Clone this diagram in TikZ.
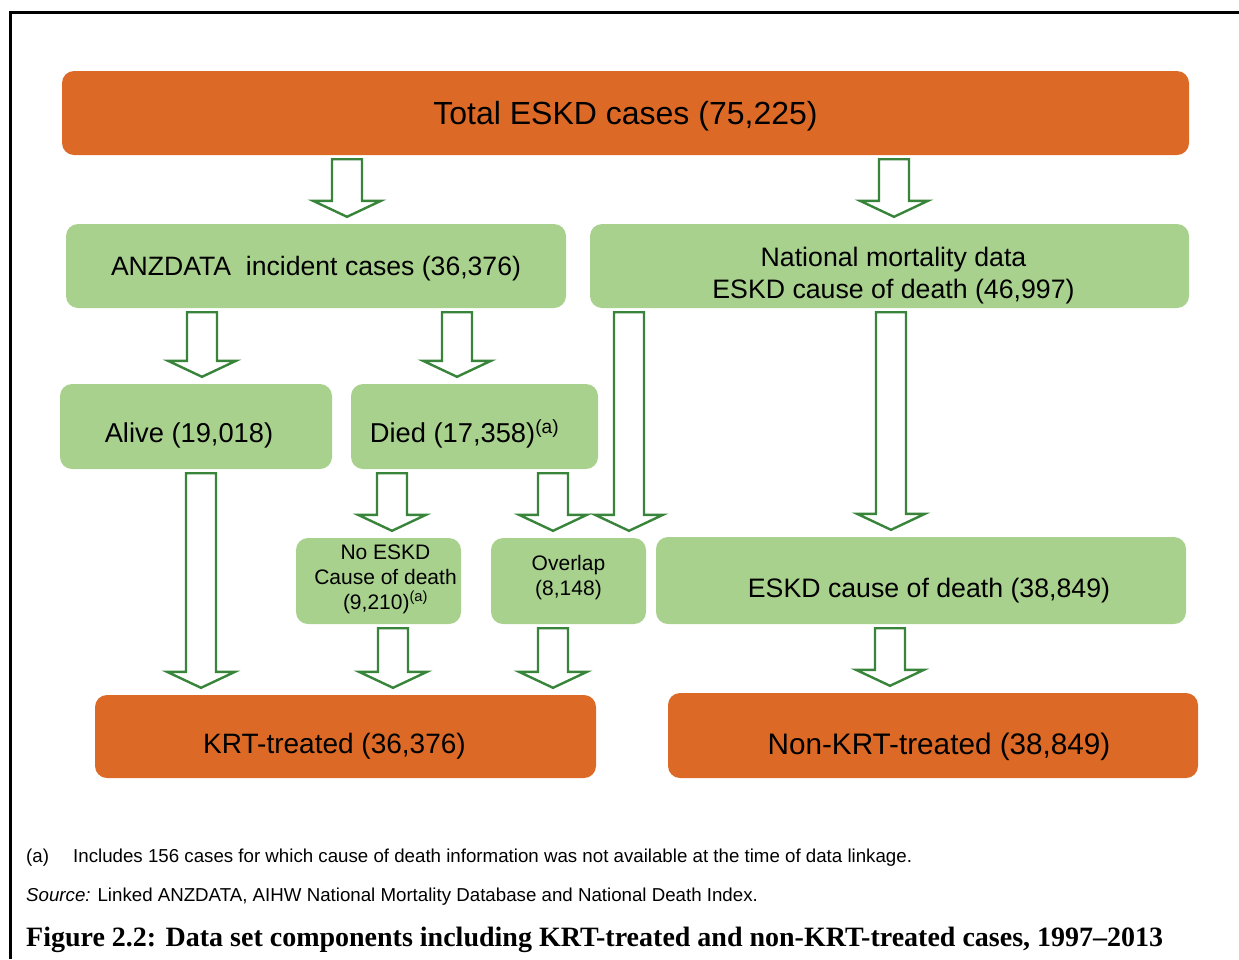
\documentclass[tikz,border=0pt]{standalone}
\usepackage{fontspec}
\setmainfont{Liberation Sans}
\newfontfamily\capfont{Liberation Serif}
\usetikzlibrary{calc}
\definecolor{eskdorange}{RGB}{220,106,38}
\definecolor{eskdgreen}{RGB}{169,209,142}
\definecolor{arrowgreen}{RGB}{56,132,58}
\tikzset{
  orangebox/.style={fill=eskdorange, rounded corners=12pt, inner sep=0pt, align=center},
  greenbox/.style={fill=eskdgreen, rounded corners=12pt, inner sep=0pt, align=center},
  textpos/.style={text depth=0pt, text height=#1},
  hollowarrow/.style={draw=arrowgreen, line width=2.4pt, fill=white, line join=miter},
  note/.style={anchor=west, inner sep=0pt, font=\fontsize{18.7}{22}\selectfont},
}
% 空心箭头: x 位置, 起点, 终点
\newcommand{\blockarrow}[3]{%
  \coordinate (s) at (#2.south -| #1,0);
  \coordinate (t) at (#3.north -| #1,0);
  \draw[hollowarrow] ($(s)+(-15,4)$) -- ($(t)+(-15,-23)$) -- ($(t)+(-34,-23)$)
    -- ($(t)+(0,-7)$) -- ($(t)+(34,-23)$) -- ($(t)+(15,-23)$) -- ($(s)+(15,4)$) -- cycle;
}
\begin{document}
\begin{tikzpicture}[x=1pt, y=-1pt]
            \useasboundingbox (0,0) rectangle (1239,959);
            % 边框
            \draw[line width=3pt] (10,959) -- (10,12) -- (1239,12);
            % 方框
            \node[orangebox, minimum width=1127pt, minimum height=84pt, textpos=22.9pt, font=\fontsize{32}{38}\selectfont] (total) at (625.5,113) {Total ESKD cases (75,225)};
            \node[greenbox, minimum width=500pt, minimum height=84pt, textpos=19pt, font=\fontsize{26.6}{32}\selectfont] (anz) at (316,266) {ANZDATA\ \ incident cases (36,376)};
            \node[greenbox, minimum width=599pt, minimum height=84pt, textpos=65.1pt, font=\fontsize{26.7}{32}\selectfont] (nat) at (889.5,266) {\hspace*{8pt}National mortality data\\\hspace*{8pt}ESKD cause of death (46,997)};
            \node[greenbox, minimum width=272pt, minimum height=85pt, textpos=31.5pt, font=\fontsize{27.3}{32}\selectfont] (alive) at (196,426.5) {Alive (19,018)\hspace*{14pt}};
            \node[greenbox, minimum width=247pt, minimum height=85pt, textpos=31.5pt, font=\fontsize{27.3}{32}\selectfont] (died) at (474.5,426.5) {Died (17,358)\textsuperscript{(a)}\hspace*{20pt}};
            \node[greenbox, minimum width=165pt, minimum height=86pt, textpos=57pt, font=\fontsize{21}{25}\selectfont] (noeskd) at (378.5,581) {\hspace*{14pt}No ESKD\\\hspace*{14pt}Cause of death\\\hspace*{14pt}(9,210)\textsuperscript{(a)}};
            \node[greenbox, minimum width=155pt, minimum height=86pt, textpos=29pt, font=\fontsize{21}{25}\selectfont] (overlap) at (568.5,581) {Overlap\\(8,148)};
            \node[greenbox, minimum width=530pt, minimum height=87pt, textpos=33.1pt, font=\fontsize{26.7}{32}\selectfont] (eskd) at (921,580.5) {\hspace*{16pt}ESKD cause of death (38,849)};
            \node[orangebox, minimum width=501pt, minimum height=83pt, textpos=34pt, font=\fontsize{28}{34}\selectfont] (krt) at (345.5,736.5) {KRT-treated (36,376)\hspace*{22pt}};
            \node[orangebox, minimum width=530pt, minimum height=85pt, textpos=37.3pt, font=\fontsize{29.7}{35}\selectfont] (nonkrt) at (933,735.5) {\hspace*{12pt}Non-KRT-treated (38,849)};
            % 箭头
            \blockarrow{347}{total}{anz}
            \blockarrow{894}{total}{nat}
            \blockarrow{202}{anz}{alive}
            \blockarrow{457}{anz}{died}
            \blockarrow{629}{nat}{overlap}
            \blockarrow{891}{nat}{eskd}
            \blockarrow{201}{alive}{krt}
            \blockarrow{392}{died}{noeskd}
            \blockarrow{553}{died}{overlap}
            \blockarrow{393}{noeskd}{krt}
            \blockarrow{553}{overlap}{krt}
            \blockarrow{890}{eskd}{nonkrt}
            % 注释
            \node[note] (fna) at (26,858) {(a)};
            \node[note] (fntext) at (73,858) {Includes 156 cases for which cause of death information was not available at the time of data linkage.};
            \node[note] (source) at (26,897) {\textit{Source:} Linked ANZDATA, AIHW National Mortality Database and National Death Index.};
            \node[note, font=\capfont\bfseries\fontsize{28}{30}\selectfont] (caption) at (26,940) {Figure 2.2: Data set components including KRT-treated and non-KRT-treated cases, 1997–2013};
        \end{tikzpicture}
\end{document}
